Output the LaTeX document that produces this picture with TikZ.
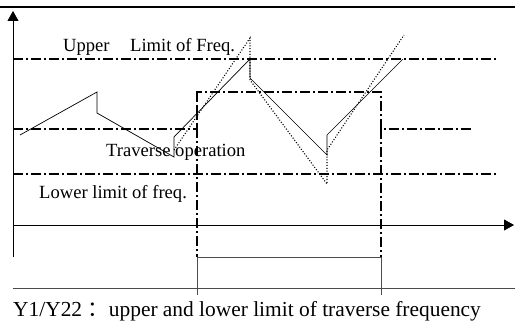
\documentclass[tikz,border=0pt]{standalone}
\usepackage{fontspec}
\setmainfont{Liberation Serif}
\newfontfamily\cjk{Noto Sans CJK SC}
\usetikzlibrary{arrows.meta}

\tikzset{
  dashdot/.style={line width=1.5pt, dash pattern=on 10pt off 3pt on 2pt off 3pt},
  dashdotv/.style={line width=1.2pt, dash pattern=on 10pt off 3pt on 2pt off 3pt},
  wave/.style={line width=0.7pt},
  dotwave/.style={line width=1.1pt, dash pattern=on 1pt off 1.8pt},
  axis/.style={line width=0.8pt, -{Triangle[length=10pt,width=11pt]}},
  lbl/.style={inner sep=0pt, anchor=base west, font=\fontsize{18.6}{20}\selectfont},
}

\begin{document}
\begin{tikzpicture}[x=1pt, y=-1pt]
\useasboundingbox (0,0) rectangle (515,321);

% axes and frame lines
\coordinate (top l) at (0,7);
\coordinate (top r) at (515,7);
\coordinate (yfoot) at (13,257);
\coordinate (ytip) at (13,11);
\coordinate (xfoot) at (13,225);
\coordinate (xtip) at (514,225);
\coordinate (base l) at (13,288);
\coordinate (base r) at (515,288);

\draw[line width=2pt] (top l) -- (top r);
\draw[axis] (yfoot) -- (ytip);
\draw[axis] (xfoot) -- (xtip);
\draw[line width=0.8pt, black!70] (base l) -- (base r);

% limit lines
\draw[dashdot] (13,59) -- (497,59);
\draw[dashdot] (13,174) -- (497,174);
\draw[dashdot] (13,129) -- (197,129) -- (197,92) -- (381,92) -- (381,129) -- (473,129);
\draw[dashdotv] (197,92) -- (197,257);
\draw[dashdotv] (381,129) -- (381,257);

% pulse
\draw[line width=0.8pt, black!70] (197,295) -- (197,257) -- (381,257) -- (381,295);

% traverse wave
\draw[wave] (20,135) -- (97,92) -- (97,113) -- (174,157) -- (174,137)
  -- (250,59) -- (250,78) -- (327,155) -- (327,135) -- (403,59);
\draw[dotwave] (174,150) -- (250,38) -- (250,80) -- (327,184) -- (327,150) -- (404,35);

% labels
\node (upper) [lbl] at (63,52) {Upper};
\node (limup) [lbl] at (130,52) {Limit of Freq.};
\node (trav) [lbl] at (106,157) {Traverse operation};
\node (limlow) [lbl] at (39,198) {Lower limit of freq.};
\node (note) [lbl, font=\fontsize{21.4}{22}\selectfont] at (13,316)
  {Y1/Y22 {\cjk ：}upper and lower limit of traverse frequency};
\end{tikzpicture}
\end{document}
